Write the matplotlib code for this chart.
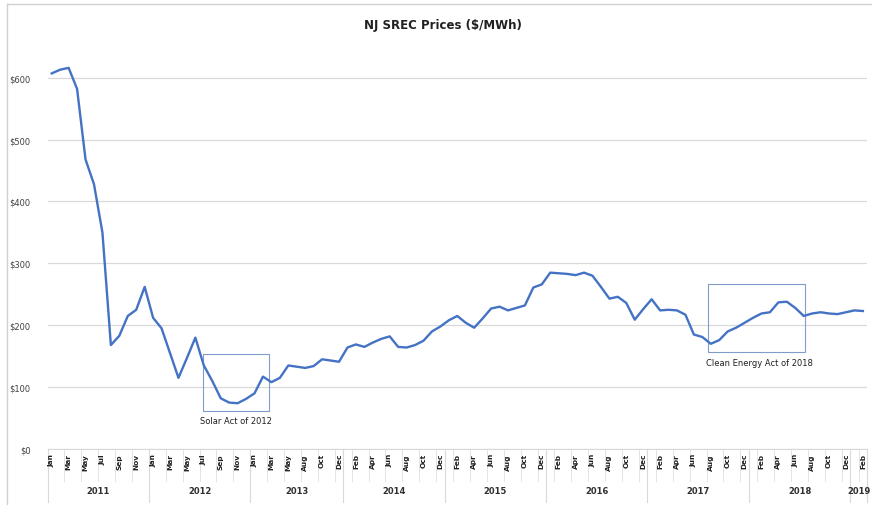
import matplotlib.pyplot as plt
from matplotlib.lines import Line2D
from matplotlib.patches import Rectangle
import numpy as np

# monthly categories (Jul 2013 is absent from the source data)
mon = ['Jan', 'Feb', 'Mar', 'Apr', 'May', 'Jun', 'Jul', 'Aug', 'Sep', 'Oct', 'Nov', 'Dec']
years = ['2011', '2012', '2013', '2014', '2015', '2016', '2017', '2018', '2019']
months = []
year_of = []
for y in years:
    ms = mon if y != '2019' else mon[:2]
    if y == '2013':
        ms = [m for m in mon if m != 'Jul']
    months += ms
    year_of += [y] * len(ms)

prices = [607, 613, 616, 582, 468, 428, 350, 168, 183, 215, 225, 262,
          212, 195, 155, 115, 147, 180, 135, 110, 82, 75, 74, 81,
          90, 117, 108, 115, 135, 133, 131, 134, 145, 143, 141,
          164, 169, 165, 172, 178, 182, 165, 164, 168, 175, 190, 198,
          208, 215, 204, 196, 211, 227, 230, 224, 228, 232, 261, 266,
          285, 284, 283, 281, 285, 280, 262, 243, 246, 236, 209, 226,
          242, 224, 225, 224, 217, 185, 181, 170, 176, 190, 196, 204,
          212, 219, 221, 237, 238, 228, 215, 219, 221, 219, 218, 221,
          224, 223]

n = len(prices)
x = np.arange(n)

fig = plt.figure(figsize=(8.72, 5.06), dpi=100)
ax = fig.add_axes([47.5 / 872, 1 - 450 / 506, 819.6 / 872, 402.2 / 506])

ax.plot(x, prices, color='#4472C4', linewidth=1.7, solid_joinstyle='round')
ax.set_xlim(-0.5, n - 0.5)
ax.set_ylim(0, 650)

ax.set_yticks(range(0, 700, 100))
ax.set_yticklabels(['$%d' % v for v in range(0, 700, 100)], fontsize=6, color='#404040')
ax.tick_params(axis='y', length=0, pad=12)
ax.grid(axis='y', color='#D9D9D9', linewidth=0.9)
ax.set_axisbelow(True)
for s in ['left', 'right', 'top']:
    ax.spines[s].set_visible(False)
ax.spines['bottom'].set_color('#D9D9D9')

# month labels every other category
ax.set_xticks([])
tr = ax.get_xaxis_transform()
for i in range(0, n, 2):
    ax.text(i, -0.01, months[i], transform=tr, rotation=90, ha='center', va='top',
            fontsize=5.3, fontweight='bold', color='#202020')
for b in np.arange(-0.5, n, 2):
    ax.plot([b, b], [0, -0.08], transform=tr, color='#E3E3E3', linewidth=0.7, clip_on=False)

# year groups
bounds = [-0.5]
for i in range(1, n):
    if year_of[i] != year_of[i - 1]:
        bounds.append(i - 0.5)
bounds.append(n - 0.5)
for b in bounds:
    ax.plot([b, b], [0, -0.133], transform=tr, color='#D9D9D9', linewidth=0.8, clip_on=False)
for k, y in enumerate(years):
    ax.text((bounds[k] + bounds[k + 1]) / 2, -0.104, y, transform=tr, ha='center', va='center',
            fontsize=6, fontweight='bold', color='#303030')

# annotation boxes
box_col = '#7F9CCB'
ax.add_patch(Rectangle((17.9, 62), 25.75 - 17.9, 154 - 62, fill=False, edgecolor=box_col, linewidth=0.8))
ax.text(21.8, 46, 'Solar Act of 2012', ha='center', va='center', fontsize=6, color='#202020')
ax.add_patch(Rectangle((77.7, 157), 89.15 - 77.7, 267 - 157, fill=False, edgecolor=box_col, linewidth=0.8))
ax.text(83.8, 139, 'Clean Energy Act of 2018', ha='center', va='center', fontsize=6, color='#202020')

fig.text(443 / 872, 1 - 25 / 506, 'NJ SREC Prices ($/MWh)', ha='center', va='center',
         fontsize=8.5, fontweight='bold', color='#202020')

# chart frame
fig.add_artist(Line2D([7 / 872, 1], [1 - 5 / 506, 1 - 5 / 506], transform=fig.transFigure, color='#D0D0D0', linewidth=1))
fig.add_artist(Line2D([7 / 872, 7 / 872], [0, 1 - 5 / 506], transform=fig.transFigure, color='#D0D0D0', linewidth=1))

fig.savefig('out.png', dpi=100)
